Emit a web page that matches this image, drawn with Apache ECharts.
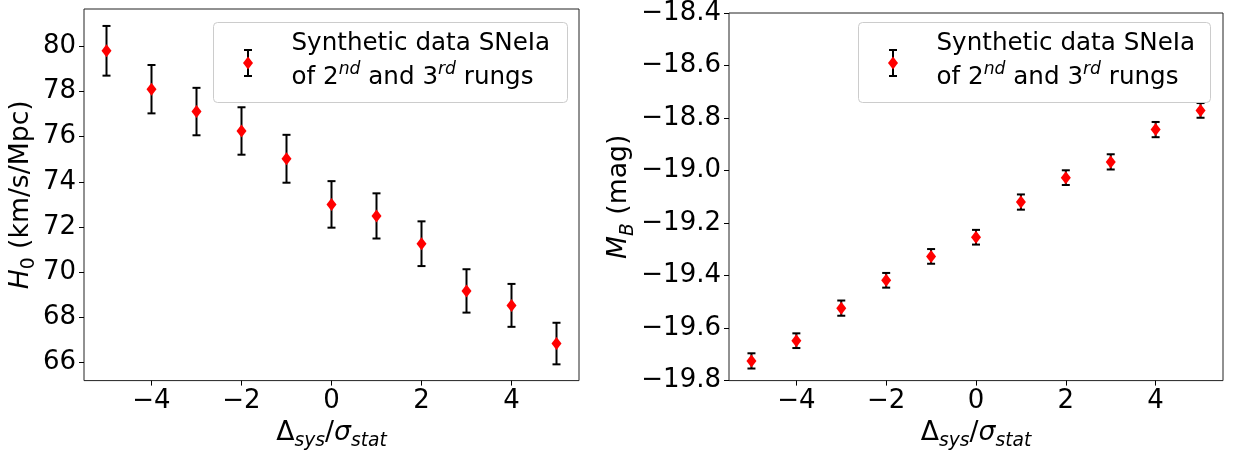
<!DOCTYPE html>
<html>
<head>
<meta charset="utf-8">
<script src="https://cdn.jsdelivr.net/npm/echarts@6/dist/echarts.min.js"></script>
<style>
  html, body { margin: 0; padding: 0; background: #fff; }
  #chart { width: 1237px; height: 456px; }
</style>
</head>
<body>
<div id="chart"></div>
<script>
// ---- data ----
const xVals = [-5, -4, -3, -2, -1, 0, 1, 2, 3, 4, 5];
const h0Vals = [79.80, 78.10, 77.11, 76.25, 75.02, 73.00, 72.49, 71.26, 69.17, 68.53, 66.84];
const h0Errs = [1.10, 1.07, 1.05, 1.05, 1.06, 1.03, 1.00, 0.99, 0.96, 0.95, 0.92];
const mbVals = [-19.725, -19.648, -19.524, -19.418, -19.327, -19.254, -19.120, -19.027, -18.967, -18.844, -18.771];
const mbErrs = [0.029, 0.028, 0.029, 0.028, 0.028, 0.028, 0.029, 0.028, 0.029, 0.029, 0.028];

const xTicks = [-4, -2, 0, 2, 4];
const h0Ticks = [66, 68, 70, 72, 74, 76, 78, 80];
const mbTicks = [-19.8, -19.6, -19.4, -19.2, -19.0, -18.8, -18.6, -18.4];

const legendLine1 = 'Synthetic data SNeIa';

// ---- styling ----
const FONT = 'DejaVu Sans';
const TK = 26;      // tick labels
const LG = 24.6;    // legend
const TS = 26.67;   // axis titles
const minus = v => (v < 0 ? '\u2212' : '') + Math.abs(v);
const minus1 = v => (v < 0 ? '\u2212' : '') + Math.abs(v).toFixed(1);

const richTitle = {
  r: { fontFamily: FONT, fontSize: TS, color: '#000', lineHeight: 36 },
  i: { fontFamily: FONT, fontSize: TS, fontStyle: 'italic', color: '#000', lineHeight: 36 },
  s: { fontFamily: FONT, fontSize: 18.7, color: '#000', lineHeight: 25, verticalAlign: 'bottom' },
  is: { fontFamily: FONT, fontSize: 18.7, fontStyle: 'italic', color: '#000', lineHeight: 25, verticalAlign: 'bottom' }
};
const richLegend = {
  r: { fontFamily: FONT, fontSize: LG, color: '#000', lineHeight: 34 },
  sup: { fontFamily: FONT, fontSize: 17.2, fontStyle: 'italic', color: '#000', lineHeight: 22, verticalAlign: 'top' }
};

const grids = [
  { left: 84, top: 9, width: 495, height: 378 },
  { left: 729, top: 9, width: 494, height: 378 }
];

function xAxisCfg(gi) {
  return {
    type: 'value', gridIndex: gi, min: -5.5, max: 5.5,
    name: '{r|\u0394}{is|sys}{r|/}{i|\u03c3}{is|stat}',
    nameLocation: 'middle', nameGap: 34,
    nameTextStyle: { rich: richTitle },
    axisLine: { show: false, onZero: false },
    splitLine: { show: false },
    axisTick: { show: true, inside: false, length: 5, customValues: xTicks, lineStyle: { color: '#000', width: 1 } },
    axisLabel: { show: true, customValues: xTicks, margin: 8, fontFamily: FONT, fontSize: TK, color: '#000', formatter: minus }
  };
}

function yAxisCfg(gi, min, max, ticks, fmt, name, gap) {
  return {
    type: 'value', gridIndex: gi, min: min, max: max,
    name: name, nameLocation: 'middle', nameGap: gap,
    nameTextStyle: { rich: richTitle },
    axisLine: { show: false, onZero: false }, splitLine: { show: false },
    axisTick: { show: true, inside: false, length: 5, customValues: ticks, lineStyle: { color: '#000', width: 1 } },
    axisLabel: { customValues: ticks, margin: 8, fontFamily: FONT, fontSize: TK, color: '#000', formatter: fmt }
  };
}

function errSeries(xi, yi, vals, errs) {
  return {
    type: 'custom', xAxisIndex: xi, yAxisIndex: yi, z: 2, silent: true,
    data: xVals.map((x, k) => [x, vals[k], errs[k]]),
    renderItem: function (params, api) {
      const x = api.value(0), y = api.value(1), e = api.value(2);
      const t = api.coord([x, y + e]);
      const b = api.coord([x, y - e]);
      const st = { stroke: '#000', lineWidth: 2 };
      return {
        type: 'group', children: [
          { type: 'line', shape: { x1: t[0], y1: t[1], x2: b[0], y2: b[1] }, style: st },
          { type: 'line', shape: { x1: t[0] - 4, y1: t[1], x2: t[0] + 4, y2: t[1] }, style: st },
          { type: 'line', shape: { x1: b[0] - 4, y1: b[1], x2: b[0] + 4, y2: b[1] }, style: st }
        ]
      };
    }
  };
}

function pointSeries(xi, yi, vals) {
  return {
    type: 'scatter', xAxisIndex: xi, yAxisIndex: yi, z: 3, silent: true,
    symbol: 'diamond', symbolSize: [10, 13],
    itemStyle: { color: '#ff0000', opacity: 1 },
    data: xVals.map((x, k) => [x, vals[k]])
  };
}

function legendGraphic(bx, by, bw, bh) {
  const cx = bx + 34.5, cy = 63;
  const st = { stroke: '#000', lineWidth: 2 };
  return [
    { type: 'rect', z: 100, shape: { x: bx, y: by, width: bw, height: bh, r: 4 },
      style: { fill: 'rgba(255,255,255,0.8)', stroke: '#cccccc', lineWidth: 1 } },
    { type: 'line', z: 101, shape: { x1: cx, y1: cy - 13, x2: cx, y2: cy + 13 }, style: st },
    { type: 'line', z: 101, shape: { x1: cx - 4, y1: cy - 13, x2: cx + 4, y2: cy - 13 }, style: st },
    { type: 'line', z: 101, shape: { x1: cx - 4, y1: cy + 13, x2: cx + 4, y2: cy + 13 }, style: st },
    { type: 'polygon', z: 102, shape: { points: [[cx, cy - 6.5], [cx + 5, cy], [cx, cy + 6.5], [cx - 5, cy]] },
      style: { fill: '#ff0000' } },
    { type: 'text', z: 102, x: bx + 78, y: 27,
      style: {
        text: '{r|' + legendLine1 + '}\n{r|of 2}{sup|nd}{r| and 3}{sup|rd}{r| rungs}',
        rich: richLegend, fill: '#000'
      } }
  ];
}

const chart = echarts.init(document.getElementById('chart'), null, { renderer: 'canvas' });
chart.setOption({
  animation: false,
  backgroundColor: '#fff',
  grid: grids.map(g => Object.assign({ show: true, borderColor: '#222', borderWidth: 1, backgroundColor: 'transparent' }, g)),
  xAxis: [xAxisCfg(0), xAxisCfg(1)],
  yAxis: [
    yAxisCfg(0, 65.2, 81.65, h0Ticks, minus, '{i|H}{s|0}{r| (km/s/Mpc)}', 44),
    yAxisCfg(1, -19.8, -18.4, mbTicks, minus1, '{i|M}{is|B}{r| (mag)}', 89)
  ],
  series: [
    errSeries(0, 0, h0Vals, h0Errs),
    pointSeries(0, 0, h0Vals),
    errSeries(1, 1, mbVals, mbErrs),
    pointSeries(1, 1, mbVals)
  ],
  graphic: [].concat(legendGraphic(213.5, 22.5, 354, 80), legendGraphic(858.5, 22.5, 352, 80))
});
</script>
</body>
</html>
